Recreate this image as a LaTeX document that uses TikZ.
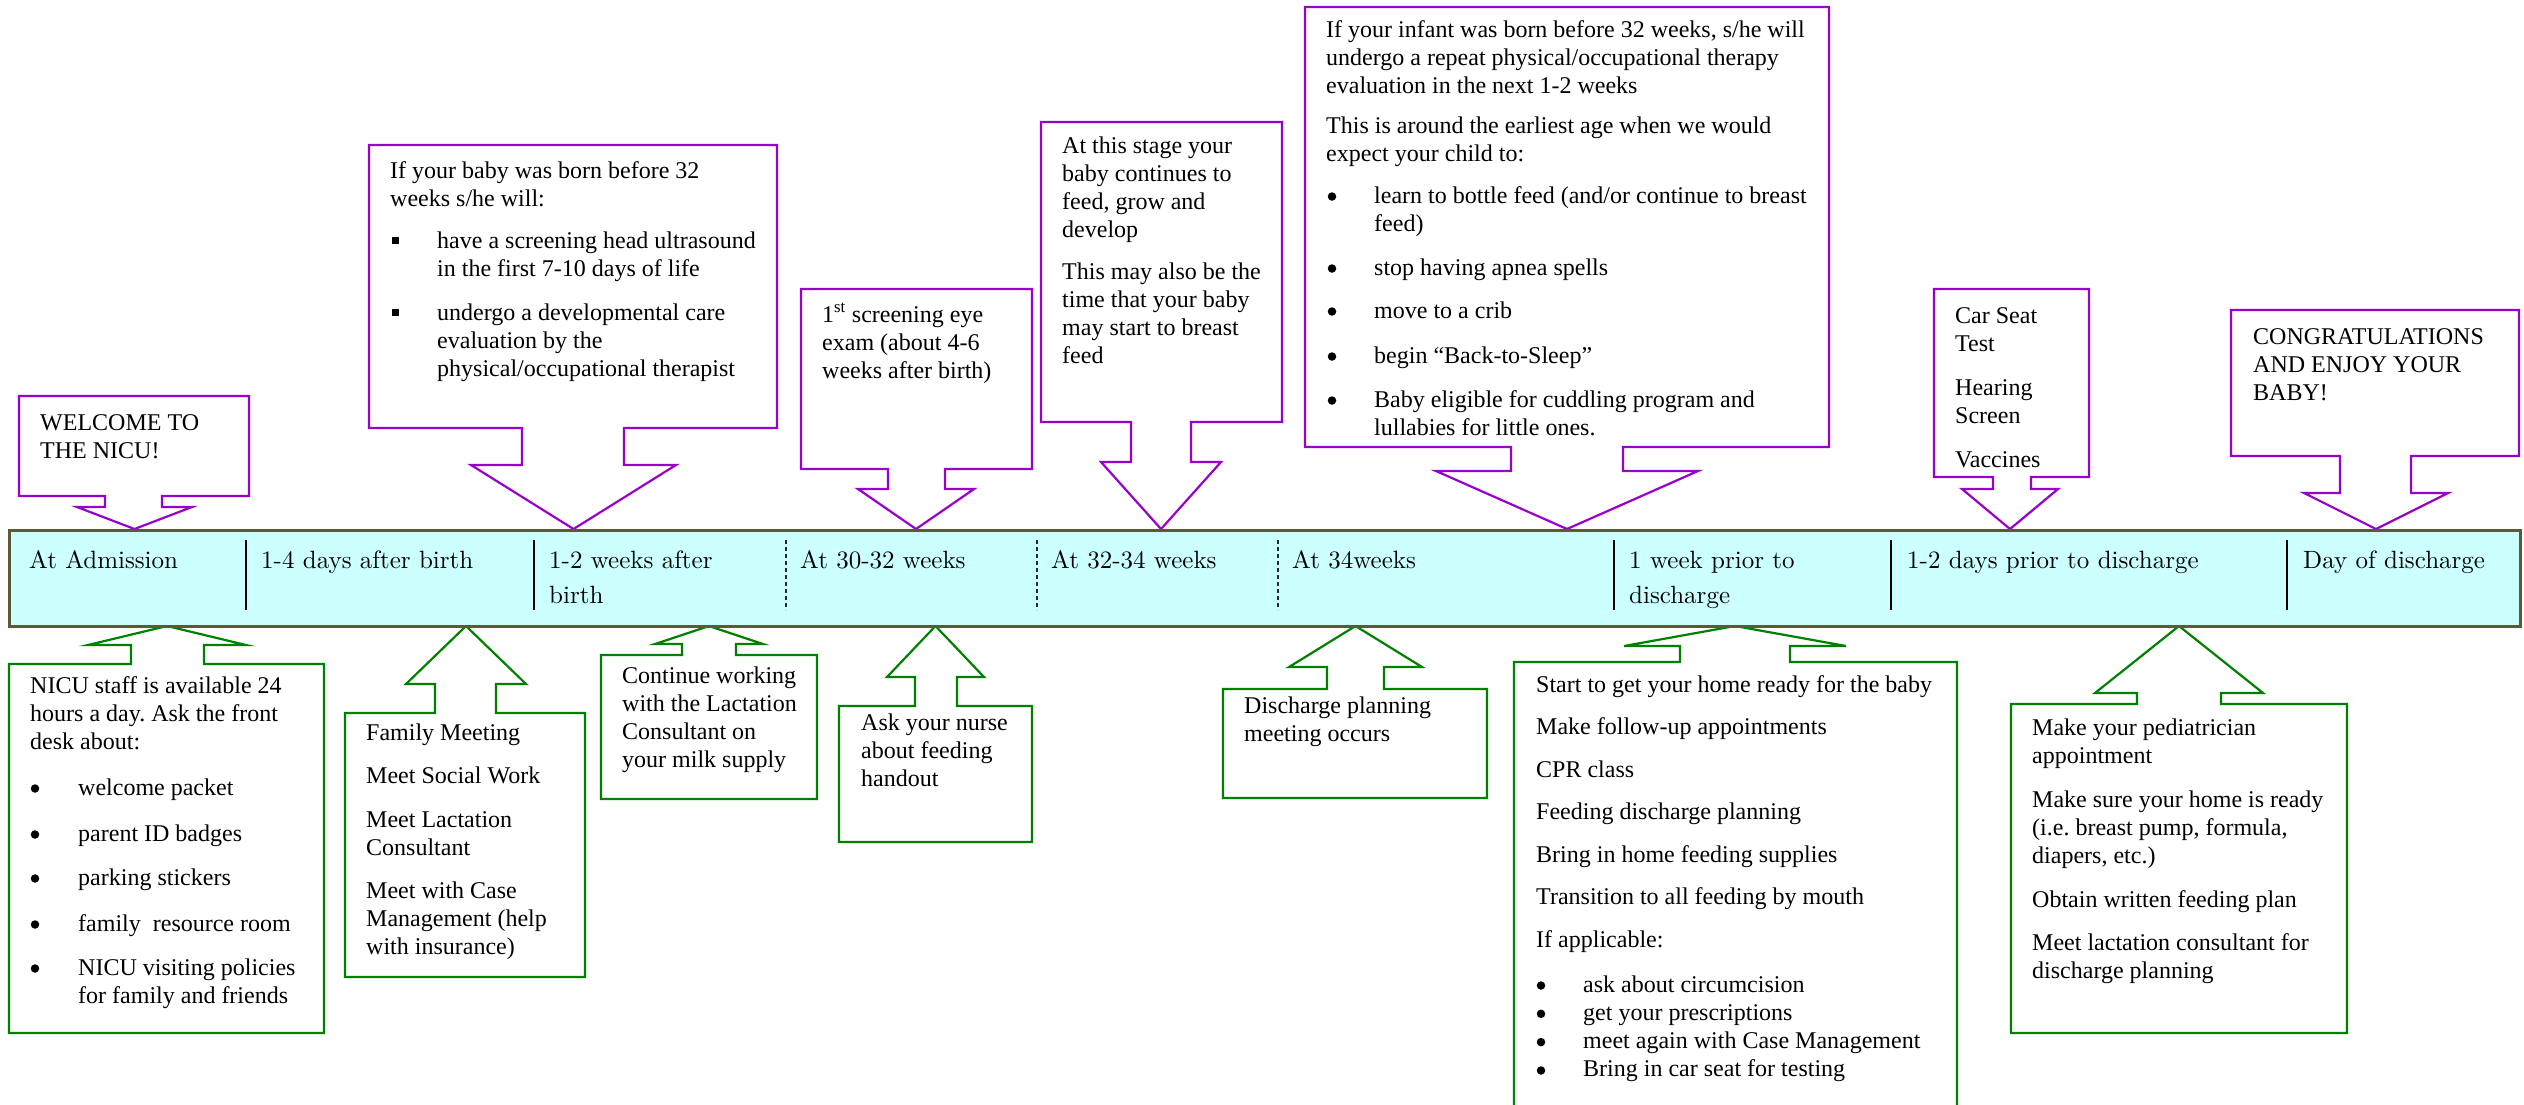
\documentclass[tikz,border=0pt]{standalone}
\usepackage{fontspec}
\newfontfamily\tnr{Liberation Serif}
\newfontfamily\bandfont{lmroman10-regular}[Extension=.otf]
\frenchspacing
\definecolor{callp}{RGB}{153,0,204}
\definecolor{callg}{RGB}{0,128,0}
\definecolor{bandfill}{RGB}{204,255,255}
\definecolor{bandline}{RGB}{90,90,55}
\tikzset{
  body/.style={anchor=base west, inner sep=0pt, font=\tnr\fontsize{24}{28}\selectfont},
  bandtxt/.style={anchor=base west, inner sep=0pt, font=\bandfont\fontsize{25}{35}\selectfont},
  bulletdot/.style={circle, fill=black, inner sep=0pt, minimum size=8.5pt},
  topcall/.style={draw=callp, line width=2.2pt, fill=white},
  botcall/.style={draw=callg, line width=2.2pt, fill=white},
  divsolid/.style={draw=black, line width=2pt},
  divdash/.style={draw=black!85, line width=1.2pt, dash pattern=on 4pt off 3pt},
}
% text lines: [spacing]{name}{x}{first baseline y}{lines}
\newcommand{\txtlines}[5][28]{\foreach \tline [count=\i from 0] in {#5} {\node[body] (#2-\i) at (#3,{#4+#1*\i}) {\tline};}}
\newcommand{\bul}[3]{\node[bulletdot] (#1) at (#2,{#3-6.5}) {};}
\newcommand{\sqbul}[3]{\node[body] (#1) at (#2,#3) {\rule[4pt]{7pt}{7pt}};}
% down callout: L T R B sl sr wy wl wr
\newcommand{\downcall}[9]{\draw[topcall] (#1,#2) -- (#3,#2) -- (#3,#4) -- (#6,#4) -- (#6,#7) -- (#9,#7) -- ({(#8+#9)/2},529) -- (#8,#7) -- (#5,#7) -- (#5,#4) -- (#1,#4) -- cycle;}
% up callout: L T R B sl sr wy wl wr
\newcommand{\upcall}[9]{\draw[botcall] (#1,#2) -- (#5,#2) -- (#5,#7) -- (#8,#7) -- ({(#8+#9)/2},626) -- (#9,#7) -- (#6,#7) -- (#6,#2) -- (#3,#2) -- (#3,#4) -- (#1,#4) -- cycle;}
\begin{document}
\begin{tikzpicture}[x=1pt,y=-1pt]
\useasboundingbox (0,0) rectangle (2524,1104);
\fill[white] (0,0) rectangle (2524,1104);

% ---------- top callouts (purple) ----------
\downcall{19}{396}{249}{496}{105}{162}{507}{77}{192}
\downcall{369}{145}{777}{428}{522}{624}{465}{471}{676}
\downcall{801}{289}{1032}{469}{888}{945}{489}{858}{974}
\downcall{1041}{122}{1282}{422}{1131}{1191}{462}{1101}{1221}
\downcall{1305}{7}{1829}{447}{1511}{1623}{471}{1436}{1698}
\downcall{1934}{289}{2089}{477}{1993}{2031}{489}{1962}{2058}
\downcall{2231}{310}{2519}{456}{2340}{2411}{493}{2304}{2448}

% ---------- bottom callouts (green) ----------
\upcall{9}{664}{324}{1033}{131}{204}{645}{88}{246}
\upcall{345}{713}{585}{977}{435}{496}{684}{406}{526}
\upcall{601}{655}{817}{799}{682}{736}{644}{655}{763}
\upcall{839}{706}{1032}{842}{915}{957}{677}{887}{984}
\upcall{1223}{689}{1487}{798}{1327}{1384}{667}{1289}{1422}
\upcall{1514}{662}{1957}{1120}{1680}{1790}{646}{1624}{1846}
\upcall{2011}{704}{2347}{1033}{2137}{2221}{693}{2095}{2263}

% ---------- timeline band ----------
\node[draw=bandline, fill=bandfill, line width=3pt, minimum width=2511pt, minimum height=96pt, inner sep=0pt, anchor=north west] (band) at (8,529) {};
\draw[divsolid] (246,540) -- (246,610);
\draw[divsolid] (534,540) -- (534,610);
\draw[divdash] (786,540) -- (786,610);
\draw[divdash] (1037,540) -- (1037,610);
\draw[divdash] (1278,540) -- (1278,610);
\draw[divsolid] (1614,540) -- (1614,610);
\draw[divsolid] (1891,540) -- (1891,610);
\draw[divsolid] (2287,540) -- (2287,610);

\node[bandtxt] (l1) at (29,568) {At Admission};
\node[bandtxt] (l2) at (261,568) {1-4 days after birth};
\node[bandtxt] (l3a) at (549,568) {1-2 weeks after};
\node[bandtxt] (l3b) at (549,603) {birth};
\node[bandtxt] (l4) at (800,568) {At 30-32 weeks};
\node[bandtxt] (l5) at (1051,568) {At 32-34 weeks};
\node[bandtxt] (l6) at (1292,568) {At 34weeks};
\node[bandtxt] (l7a) at (1629,568) {1 week prior to};
\node[bandtxt] (l7b) at (1629,603) {discharge};
\node[bandtxt] (l8) at (1907,568) {1-2 days prior to discharge};
\node[bandtxt] (l9) at (2303,568) {Day of discharge};

% ---------- top texts ----------
\txtlines{t1}{40}{430}{WELCOME TO, THE NICU!}

\txtlines{t2a}{390}{178}{If your baby was born before 32, weeks s/he will:}
\sqbul{t2s1}{392}{248}
\txtlines{t2b}{437}{248}{have a screening head ultrasound, in the first 7-10 days of life}
\sqbul{t2s2}{392}{320}
\txtlines{t2c}{437}{320}{undergo a developmental care, evaluation by the, physical/occupational therapist}

\txtlines{t3}{822}{322}{1\textsuperscript{st} screening eye, exam (about 4-6, weeks after birth)}

\txtlines{t4a}{1062}{153}{At this stage your, baby continues to, {feed, grow and}, develop}
\txtlines{t4b}{1062}{279}{This may also be the, time that your baby, may start to breast, feed}

\txtlines{t5a}{1326}{37}{{If your infant was born before 32 weeks, s/he will}, undergo a repeat physical/occupational therapy, evaluation in the next 1-2 weeks}
\txtlines{t5b}{1326}{133}{This is around the earliest age when we would, expect your child to:}
\bul{t5p1}{1332}{203}
\txtlines{t5c}{1374}{203}{learn to bottle feed (and/or continue to breast, feed)}
\bul{t5p2}{1332}{275}
\txtlines{t5d}{1374}{275}{stop having apnea spells}
\bul{t5p3}{1332}{318}
\txtlines{t5e}{1374}{318}{move to a crib}
\bul{t5p4}{1332}{363}
\txtlines{t5f}{1374}{363}{begin “Back-to-Sleep”}
\bul{t5p5}{1332}{407}
\txtlines{t5g}{1374}{407}{Baby eligible for cuddling program and, lullabies for little ones.}

\txtlines{t6a}{1955}{323}{Car Seat, Test}
\txtlines{t6b}{1955}{395}{Hearing, Screen}
\txtlines{t6c}{1955}{467}{Vaccines}

\txtlines{t7}{2253}{344}{CONGRATULATIONS, AND ENJOY YOUR, BABY!}

% ---------- bottom texts ----------
\txtlines{b1a}{30}{693}{NICU staff is available 24, hours a day. Ask the front, desk about:}
\bul{b1p1}{35}{795}
\txtlines{b1b}{78}{795}{welcome packet}
\bul{b1p2}{35}{841}
\txtlines{b1c}{78}{841}{parent ID badges}
\bul{b1p3}{35}{885}
\txtlines{b1d}{78}{885}{parking stickers}
\bul{b1p4}{35}{931}
\txtlines{b1e}{78}{931}{family\ \ resource room}
\bul{b1p5}{35}{975}
\txtlines{b1f}{78}{975}{NICU visiting policies, for family and friends}

\txtlines{b2a}{366}{740}{Family Meeting}
\txtlines{b2b}{366}{783}{Meet Social Work}
\txtlines{b2c}{366}{827}{Meet Lactation, Consultant}
\txtlines{b2d}{366}{898}{Meet with Case, Management (help, with insurance)}

\txtlines{b3}{622}{683}{Continue working, with the Lactation, Consultant on, your milk supply}

\txtlines{b4}{861}{730}{Ask your nurse, about feeding, handout}

\txtlines{b5}{1244}{713}{Discharge planning, meeting occurs}

\txtlines[42.5]{b6a}{1536}{692}{Start to get your home ready for the baby, Make follow-up appointments, CPR class, Feeding discharge planning, Bring in home feeding supplies, Transition to all feeding by mouth, If applicable:}
\foreach \yy [count=\k] in {992,1020.3,1048.6,1077} {\node[bulletdot] (b6p\k) at (1541,{\yy-6.5}) {};}
\txtlines[28.3]{b6b}{1583}{992}{ask about circumcision, get your prescriptions, meet again with Case Management, Bring in car seat for testing}

\txtlines{b7a}{2032}{735}{Make your pediatrician, appointment}
\txtlines{b7b}{2032}{807}{Make sure your home is ready, {(i.e. breast pump, formula,}, {diapers, etc.)}}
\txtlines{b7c}{2032}{907}{Obtain written feeding plan}
\txtlines{b7d}{2032}{950}{Meet lactation consultant for, discharge planning}
\end{tikzpicture}
\end{document}
